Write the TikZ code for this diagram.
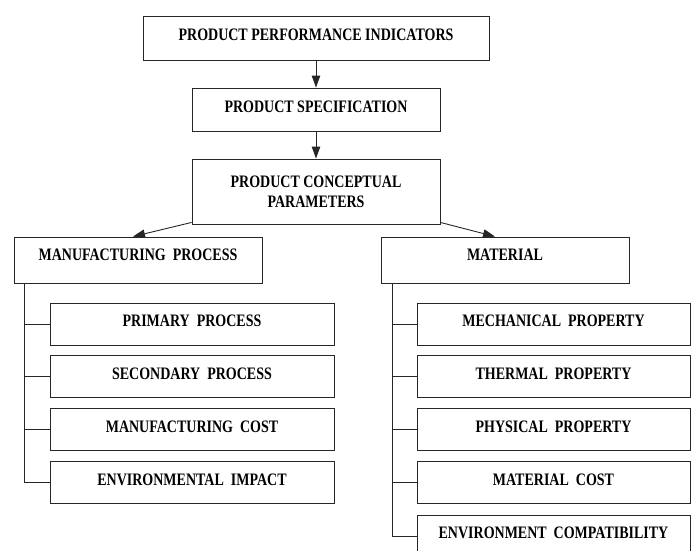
\documentclass[tikz,border=0pt]{standalone}
\usepackage{fontspec}
\setmainfont{Liberation Serif}[FakeStretch=0.8]
\usetikzlibrary{arrows.meta}

\tikzset{
  box/.style={draw=black!85, line width=0.9pt, inner sep=0pt, text height=12pt, text depth=6.4pt,
    font=\fontsize{17.5}{20}\selectfont\bfseries},
  subbox/.style={box, minimum width=284pt, minimum height=42pt},
  link/.style={draw=black!85, line width=0.9pt},
  flow/.style={link, -{Triangle[width=8.5pt,length=12pt]}}
}

\begin{document}
\begin{tikzpicture}[x=1pt,y=-1pt]
\clip (0,0) rectangle (691,550);
% top chain
\node [box, minimum width=346pt, minimum height=44pt] (ppi) at (316,38) {PRODUCT PERFORMANCE INDICATORS};
\node [box, minimum width=248pt, minimum height=43pt] (spec) at (316,109.5) {PRODUCT SPECIFICATION};
\node [box, minimum width=248pt, minimum height=65pt, align=center, text height=, text depth=] (concept) at (316,191.5) {PRODUCT CONCEPTUAL\\PARAMETERS};
\draw [flow] (ppi) -- (spec);
\draw [flow] (spec) -- (concept);

% two branches
\node [box, minimum width=248pt, minimum height=46pt, text depth=10.4pt] (manuf) at (138,260) {MANUFACTURING\ \ PROCESS};
\node [box, minimum width=248pt, minimum height=46pt, text depth=10.4pt] (mat) at (505,260) {MATERIAL};
\draw [flow] ([yshift=2pt]concept.south west) -- ([xshift=-5pt]manuf.north);
\draw [flow] ([yshift=2pt]concept.south east) -- ([xshift=-10pt]mat.north);

% manufacturing process items
\node [subbox] (prim) at (192,324) {PRIMARY\ \ PROCESS};
\node [subbox] (sec) at (192,376.5) {SECONDARY\ \ PROCESS};
\node [subbox] (mcost) at (192,429.5) {MANUFACTURING\ \ COST};
\node [subbox] (envimp) at (192,482.5) {ENVIRONMENTAL\ \ IMPACT};
\foreach \n in {prim,sec,mcost,envimp}
  \draw [link] ([xshift=11pt]manuf.south west) |- (\n.west);

% material items
\node [subbox, minimum width=273pt] (mech) at (553.5,324) {MECHANICAL\ \ PROPERTY};
\node [subbox, minimum width=273pt] (therm) at (553.5,376.5) {THERMAL\ \ PROPERTY};
\node [subbox, minimum width=273pt] (phys) at (553.5,429.5) {PHYSICAL\ \ PROPERTY};
\node [subbox, minimum width=273pt] (matcost) at (553.5,482.5) {MATERIAL\ \ COST};
\node [subbox, minimum width=273pt] (envcomp) at (553.5,536) {ENVIRONMENT\ \ COMPATIBILITY};
\foreach \n in {mech,therm,phys,matcost,envcomp}
  \draw [link] ([xshift=12pt]mat.south west) |- (\n.west);
\end{tikzpicture}
\end{document}
